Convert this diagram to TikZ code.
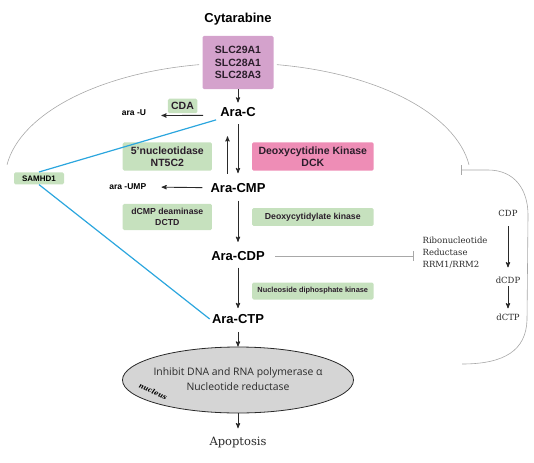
\documentclass[tikz,border=0pt]{standalone}
\usepackage{fontspec}
\usepackage{tikz}
\usetikzlibrary{positioning}
\usetikzlibrary{shapes.geometric}
\usetikzlibrary{arrows,arrows.meta}

\newfontfamily\labelsans{Liberation Sans}
\newfontfamily\bodysans{Open Sans}
\newfontfamily\serifrm{DejaVu Serif}

\definecolor{slcpurple}{HTML}{D4A2CC}
\definecolor{dckpink}{HTML}{EE8DB6}
\definecolor{enzgreen}{HTML}{C6E1BE}
\definecolor{samblue}{HTML}{2BA6DE}
\definecolor{cellgray}{HTML}{A8A8A8}
\definecolor{nucgray}{HTML}{D5D5D5}
\definecolor{arrowdark}{HTML}{2A2A2A}
\definecolor{boxtext}{HTML}{2B1E2B}

\begin{document}
\begin{tikzpicture}[x=1pt,y=-1pt,>=stealth',semithick,
	drug/.style={font=\labelsans\bfseries\fontsize{13}{15}\selectfont, inner sep=2pt},
	small/.style={font=\labelsans\bfseries\fontsize{8.5}{10}\selectfont, inner sep=2pt},
	enzbox/.style={fill=enzgreen, rounded corners=1.5pt, inner sep=0pt, align=center, text=boxtext},
	bigenz/.style={enzbox, font=\labelsans\bfseries\fontsize{10.5}{11.5}\selectfont},
	midenz/.style={enzbox, font=\labelsans\bfseries\fontsize{8.7}{11}\selectfont},
	tinyenz/.style={enzbox, font=\labelsans\bfseries\fontsize{7.4}{9}\selectfont},
	serifnote/.style={font=\serifrm\fontsize{8.5}{12}\selectfont, text=arrowdark, inner sep=2pt},
	nuctext/.style={font=\bodysans\fontsize{10.4}{12}\selectfont, text=arrowdark, inner sep=1pt},
	flow/.style={->, draw=arrowdark, line width=0.9pt},
	cellline/.style={draw=cellgray, line width=0.6pt},
	inhib/.style={cellline, -{Bar[width=10pt]}},
	samline/.style={draw=samblue, line width=1.2pt}]

	\useasboundingbox (0,0) rectangle (534,462);

	% cell membrane
	\coordinate (cellc) at (238,180);
	\draw[cellline] (cellc) ++(-172.5:233 and 117) arc[start angle=-172.5, end angle=-99.6, x radius=233, y radius=117];
	\draw[cellline] (cellc) ++(-80.4:233 and 117) arc[start angle=-80.4, end angle=-7.5, x radius=233, y radius=117];

	% main column
	\node[drug] (cyt) at (238,18.7) {Cytarabine};
	\node[enzbox, fill=slcpurple, minimum width=71, minimum height=53.4, font=\labelsans\bfseries\fontsize{10.5}{12.6}\selectfont] (slc) at (238,62.5) {SLC29A1\\SLC28A1\\SLC28A3};
	\node[drug] (arac) at (238,112.4) {Ara-C};
	\node[drug] (aracmp) at (238,187.7) {Ara-CMP};
	\node[drug] (aracdp) at (238,255.8) {Ara-CDP};
	\node[drug] (aractp) at (238,319) {Ara-CTP};

	% nucleus
	\node[ellipse, draw=arrowdark, line width=0.8pt, fill=nucgray, minimum width=231, minimum height=66, inner sep=0pt] (nucleus) at (238,380) {};
	\node[nuctext] (poltxt) at (238,373) {Inhibit DNA and RNA polymerase α};
	\node[nuctext] (redtxt) at (238,386.5) {Nucleotide reductase};
	\node[font=\serifrm\bfseries\itshape\fontsize{6.8}{8}\selectfont, rotate=-24, inner sep=0pt] (nuclab) at (153,391.5) {nucleus};
	\node[font=\serifrm\fontsize{11.5}{13}\selectfont, text=arrowdark, inner sep=2pt] (apop) at (238,442) {Apoptosis};

	% enzymes
	\node[bigenz, minimum width=29.5, minimum height=14.5] (cda) at (182.5,106) {CDA};
	\node[small] (arau) at (134,113) {ara -U};
	\node[bigenz, minimum width=89.3, minimum height=28.3] (nt5c2) at (167.3,156.5) {5’nucleotidase\\NT5C2};
	\node[bigenz, fill=dckpink, minimum width=121.6, minimum height=28.3] (dck) at (312.8,156.5) {Deoxycytidine Kinase\\DCK};
	\node[small] (araump) at (127.8,187) {ara -UMP};
	\node[midenz, minimum width=89.3, minimum height=26.3] (dctd) at (167.3,217) {dCMP deaminase\\DCTD};
	\node[midenz, minimum width=121.6, minimum height=17.8] (dctk) at (312.8,217) {Deoxycytidylate kinase};
	\node[tinyenz, minimum width=121.6, minimum height=17] (ndpk) at (312.8,291) {Nucleoside diphosphate kinase};
	\node[small, fill=enzgreen, rounded corners=1.5pt, minimum width=50, minimum height=12, inner sep=0pt, font=\labelsans\bfseries\fontsize{8}{10}\selectfont] (samhd1) at (39,178.3) {SAMHD1};

	% ribonucleotide reductase
	\node[serifnote, anchor=west, align=left] (rnr) at (420.3,253) {Ribonucleotide\\Reductase\\RRM1/RRM2};
	\node[serifnote] (cdp) at (508,213.5) {CDP};
	\node[serifnote] (dcdp) at (508,280) {dCDP};
	\node[serifnote] (dctp) at (508,317) {dCTP};
	\draw[inhib] (462,364) .. controls (505,364) and (526,350) .. (527,320) -- (528,215) .. controls (528,190) and (515,170) .. (488,170) -- (461,170);

	% connectors
	\draw[flow, shorten >=3pt] (slc) -- (arac);
	\draw[flow, shorten <=5pt, shorten >=7.6pt] (arac) -- (aracmp);
	\draw[flow, shorten <=7pt, shorten >=17pt] ([xshift=-10.5pt]aracmp.north) -- ([xshift=-10.5pt]arac.south);
	\draw[flow, shorten <=15pt, shorten >=13pt] ([yshift=-3pt]arac.west) -- ([yshift=-2.5pt]arau.east);
	\draw[flow, shorten <=6pt, shorten >=13pt] (aracmp.west) -- (araump.east);
	\draw[flow, shorten <=6pt, shorten >=7pt] (aracmp) -- (aracdp);
	\draw[flow, shorten <=5pt, shorten >=4pt] (aracdp) -- (aractp);
	\draw[flow, shorten <=6pt] (aractp) -- (nucleus);
	\draw[flow, shorten >=6pt] (nucleus) -- (apop);
	\draw[flow, shorten <=7pt, shorten >=7pt] (cdp) -- (dcdp);
	\draw[flow, shorten <=0.5pt, shorten >=3pt] (dcdp) -- (dctp);
	\draw[inhib, shorten <=8pt, shorten >=7pt] (aracdp.east) -- (aracdp.east -| rnr.west);

	% SAMHD1
	\draw[samline, shorten >=2pt] (samhd1.north) -- (arac.south west);
	\draw[samline] (samhd1.south) -- (aractp.west);
\end{tikzpicture}
\end{document}
